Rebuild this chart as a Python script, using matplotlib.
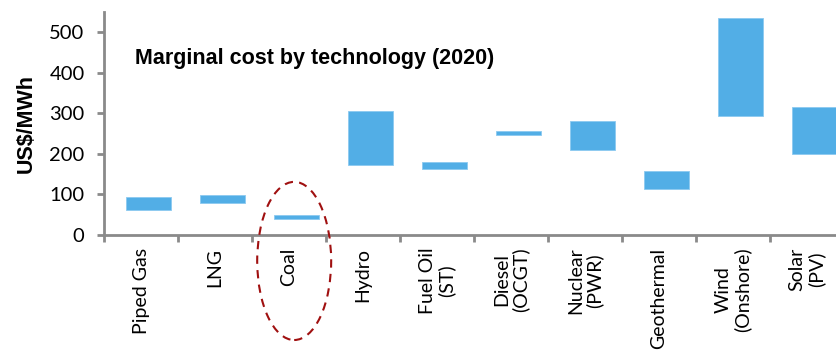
import matplotlib
matplotlib.use("Agg")
import matplotlib.pyplot as plt
from matplotlib.patches import Ellipse
import numpy as np

categories = ["Piped Gas", "LNG", "Coal", "Hydro", "Fuel Oil\n(ST)", "Diesel\n(OCGT)",
              "Nuclear\n(PWR)", "Geothermal", "Wind\n(Onshore)", "Solar\n(PV)"]
low = [62, 78, 40, 173, 163, 247, 209, 114, 293, 201]
high = [93, 99, 49, 306, 180, 256, 280, 159, 534, 316]
yticks = [0, 100, 200, 300, 400, 500]

W, H = 836, 351
fig = plt.figure(figsize=(W / 100, H / 100), dpi=100)
ax = fig.add_axes([104 / W, (H - 235) / H, (844 - 104) / W, (235 - 12) / H])

x = np.arange(len(categories))
heights = np.array(high) - np.array(low)
ax.bar(x + 0.1, heights, bottom=low, width=0.615, color="#52AEE6",
       edgecolor="#8ccaf0", linewidth=0.6, zorder=3)

ax.set_xlim(-0.5, len(categories) - 0.5)
ax.set_ylim(0, 550)
ax.set_yticks(yticks)
ax.set_yticklabels([str(v) for v in yticks], fontfamily="Lato", fontsize=14.5)
ax.set_xticks(np.arange(len(categories) + 1) - 0.5, minor=False)
ax.set_xticklabels([""] * (len(categories) + 1))
for i, lab in enumerate(categories):
    ax.text(i, -31, lab, rotation=90, ha="center", va="top", multialignment="center",
            fontfamily="Lato", fontsize=14, linespacing=1.1, clip_on=False)

for s in ["top", "right"]:
    ax.spines[s].set_visible(False)
for s in ["left", "bottom"]:
    ax.spines[s].set_color("#8a8a8a")
    ax.spines[s].set_linewidth(2)
ax.tick_params(axis="both", colors="#8a8a8a", width=2, length=5, labelcolor="black")
ax.tick_params(axis="y", pad=9)

ax.set_ylabel("US$/MWh", fontfamily="Liberation Sans", fontweight="bold", fontsize=15.5,
              labelpad=9)
ax.text(0.042, 0.79, "Marginal cost by technology (2020)", transform=ax.transAxes,
        fontfamily="Liberation Sans", fontweight="bold", fontsize=15.5, ha="left", va="center")

ell = Ellipse((2.07, -64), width=1.0, height=390, fill=False, edgecolor="#A01010",
              linestyle=(0, (4, 3)), linewidth=1.5, clip_on=False, zorder=5)
ax.add_patch(ell)

fig.savefig("out.png", dpi=100)
